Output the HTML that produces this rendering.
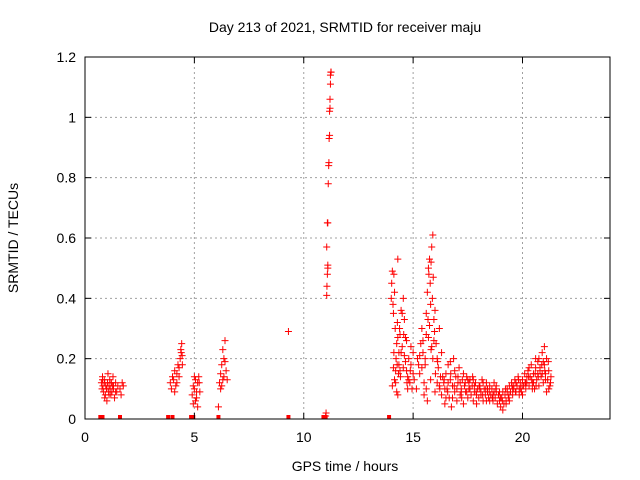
<!DOCTYPE html>
<html><head><meta charset="utf-8"><style>
html,body{margin:0;padding:0;background:#fff;}
svg{display:block;font-family:"Liberation Sans",sans-serif;}
</style></head><body>
<svg id="chart" width="640" height="480" viewBox="0 0 640 480">
<text x="345" y="32" font-size="14" text-anchor="middle">Day 213 of 2021, SRMTID for receiver maju</text>
<text x="345" y="471" font-size="14" text-anchor="middle">GPS time / hours</text>
<text x="18" y="238" font-size="14" text-anchor="middle" transform="rotate(-90 18 238)">SRMTID / TECUs</text>
<g id="grid"></g>
<g id="marks"></g>
<rect x="85" y="57" width="525" height="362" fill="none" stroke="#000" stroke-width="1"/>
<g id="ticks"></g>
</svg>
<script>
const xTicks=[0,5,10,15,20];
const yTicks=[0,0.2,0.4,0.6,0.8,1,1.2];
const yTickLabels=["0","0.2","0.4","0.6","0.8","1","1.2"];
const zeroTimes=[0.7,0.75,0.8,1.6,3.8,4.0,4.85,4.95,6.1,9.3,10.9,11.0,13.9];
const t1=[0.75,0.78,0.8,0.82,0.85,0.88,0.9,0.93,0.95,0.98,1.0,1.03,1.05,1.08,1.1,1.13,1.15,1.18,1.2,1.23,1.25,1.28,1.3,1.35,1.4,1.45,1.5,1.6,1.65,1.7,1.75,0.8,0.9,1.0,1.1,1.2,1.3,1.4];
const v1=[0.12,0.1,0.14,0.11,0.09,0.13,0.12,0.08,0.11,0.1,0.06,0.12,0.15,0.09,0.11,0.13,0.1,0.08,0.12,0.09,0.11,0.14,0.1,0.07,0.12,0.09,0.11,0.1,0.08,0.12,0.11,0.13,0.07,0.1,0.08,0.12,0.11,0.09];
const t2=[3.9,3.95,4.0,4.05,4.1,4.15,4.2,4.25,4.3,4.35,4.4,4.42,4.45,4.1,4.2,4.3,4.38,4.44,4.9,4.95,5.0,5.05,5.1,5.15,5.2,5.25,4.95,5.05,5.15,5.22,5.0,5.1,6.1,6.15,6.2,6.25,6.3,6.35,6.4,6.45,6.2,6.3,6.4,6.5,6.25,6.35,9.3];
const v2=[0.12,0.1,0.14,0.13,0.16,0.11,0.15,0.18,0.14,0.2,0.22,0.25,0.18,0.09,0.12,0.17,0.23,0.21,0.08,0.05,0.1,0.13,0.07,0.12,0.14,0.09,0.11,0.06,0.04,0.12,0.14,0.09,0.04,0.12,0.15,0.18,0.13,0.2,0.26,0.16,0.1,0.23,0.19,0.13,0.11,0.14,0.29];
const t3=[11.0,11.02,11.05,11.06,11.08,11.1,11.1,11.05,11.08,11.1,11.12,11.14,11.15,11.16,11.18,11.18,11.2,11.2,11.22,11.22,11.24,11.25];
const v3=[0.01,0.02,0.41,0.44,0.48,0.5,0.51,0.57,0.65,0.65,0.78,0.84,0.85,0.93,0.94,1.02,1.03,1.06,1.11,1.14,1.15,1.15];
const t4=[14.0,14.02,14.05,14.08,14.1,14.12,14.15,14.18,14.2,14.22,14.25,14.28,14.3,14.33,14.35,14.38,14.4,14.45,14.5,14.55,14.6,14.65,14.7,14.75,14.8,14.85,14.9,14.95,15.0,14.05,14.15,14.25,14.35,14.45,14.55,14.65,14.75,14.3,14.5,14.2,14.4,14.6,14.8,15.0,14.1,14.3,14.7,14.9];
const v4=[0.4,0.45,0.49,0.38,0.35,0.48,0.42,0.3,0.16,0.2,0.25,0.32,0.53,0.15,0.22,0.3,0.28,0.36,0.24,0.4,0.33,0.19,0.26,0.14,0.2,0.12,0.18,0.1,0.15,0.11,0.13,0.09,0.18,0.22,0.17,0.27,0.1,0.08,0.35,0.12,0.16,0.21,0.13,0.22,0.17,0.27,0.16,0.24];
const t5=[15.2,15.3,15.35,15.4,15.45,15.5,15.55,15.6,15.65,15.7,15.72,15.75,15.78,15.8,15.82,15.85,15.88,15.9,15.92,15.95,15.98,16.0,16.05,16.1,16.15,16.2,16.25,16.3,15.5,15.6,15.7,15.8,15.9,16.0,16.1,15.65,15.85,15.3,15.4,15.6,15.75,15.95,16.2];
const v5=[0.2,0.15,0.25,0.3,0.22,0.12,0.18,0.35,0.42,0.5,0.48,0.53,0.45,0.38,0.52,0.57,0.4,0.61,0.47,0.33,0.29,0.36,0.25,0.2,0.17,0.3,0.14,0.22,0.08,0.1,0.27,0.13,0.2,0.09,0.12,0.06,0.24,0.21,0.17,0.28,0.31,0.26,0.11];
const t6=[16.3,16.4,16.45,16.5,16.55,16.6,16.65,16.7,16.75,16.8,16.85,16.9,16.95,17.0,17.05,17.1,17.15,17.2,17.25,17.3,17.35,17.4,17.45,17.5,17.55,17.6,17.65,17.7,17.75,17.8,17.85,17.9,17.95,18.0,18.05,18.1,18.15,18.2,18.25,18.3,18.35,18.4,18.45,18.5,18.55,18.6,18.65,18.7,18.75,18.8,18.85,18.9,18.95,19.0,19.05,19.1,19.15,19.2,19.25,19.3,19.35,19.4,19.45,19.5,19.55,19.6,19.65,19.7,19.75,19.8,19.85,19.9,19.95,20.0,20.05,20.1,20.15,20.2,20.25,20.3,20.35,20.4,20.45,20.5,20.55,20.6,20.65,20.7,20.75,20.8,20.85,20.9,20.95,21.0,21.05,21.1,21.15,21.2,21.25,21.3];
const v6=[0.08,0.12,0.05,0.15,0.1,0.18,0.07,0.13,0.04,0.11,0.2,0.09,0.14,0.06,0.12,0.17,0.08,0.1,0.13,0.05,0.11,0.09,0.14,0.07,0.12,0.1,0.08,0.11,0.06,0.09,0.12,0.08,0.1,0.07,0.11,0.09,0.13,0.06,0.1,0.08,0.12,0.09,0.07,0.11,0.08,0.1,0.06,0.09,0.07,0.11,0.05,0.08,0.06,0.04,0.07,0.09,0.05,0.08,0.06,0.1,0.07,0.11,0.09,0.12,0.08,0.1,0.13,0.09,0.11,0.14,0.1,0.12,0.09,0.13,0.11,0.15,0.1,0.12,0.16,0.11,0.14,0.18,0.12,0.15,0.1,0.17,0.13,0.19,0.11,0.16,0.14,0.22,0.12,0.18,0.15,0.2,0.13,0.16,0.11,0.14];
const t7=[16.35,16.5,16.7,17.0,17.3,17.6,17.9,18.2,18.5,18.8,19.1,19.4,19.7,20.0,20.3,20.6,20.9,21.0,21.2,20.75,21.1,16.6,16.9,17.2,17.5,17.8,18.1,18.4,18.7,19.0,19.3,19.6,19.9,20.2,20.5,20.8,21.05,16.45,16.8,17.15,17.45,17.75,18.05,18.35,18.65,18.95,19.25,19.55,19.85,20.15,20.45,20.7,20.95];
const v7=[0.14,0.07,0.19,0.1,0.15,0.13,0.05,0.12,0.06,0.09,0.03,0.06,0.12,0.08,0.17,0.2,0.15,0.24,0.1,0.2,0.09,0.12,0.16,0.09,0.13,0.11,0.08,0.1,0.12,0.07,0.09,0.11,0.1,0.14,0.12,0.17,0.13,0.1,0.07,0.12,0.09,0.13,0.1,0.06,0.08,0.09,0.05,0.1,0.08,0.12,0.1,0.15,0.19];
const t8=[14.12,14.27,14.42,14.57,14.72,14.87,15.05,15.15,15.25,15.45,15.55,15.68,15.82,16.02,16.12,16.22,16.42,16.58,16.72,16.88,17.05,17.22,17.38,17.55,17.72,17.88,18.02,18.18,18.32,18.48,18.62,18.78,18.92,19.08,19.22,19.38,19.52,19.68,19.82,19.98,20.12,20.28,20.42,20.58,20.72,20.88,21.02,21.18,21.28,20.62];
const v8=[0.22,0.18,0.14,0.28,0.12,0.16,0.13,0.1,0.18,0.26,0.2,0.33,0.23,0.15,0.19,0.1,0.13,0.09,0.15,0.11,0.14,0.07,0.12,0.1,0.14,0.09,0.11,0.08,0.1,0.09,0.07,0.1,0.08,0.06,0.1,0.08,0.11,0.09,0.13,0.11,0.12,0.14,0.13,0.15,0.14,0.18,0.16,0.19,0.12,0.11];
const times=[].concat(t1,t2,t3,t4,t5,t6,t7,t8);
const values=[].concat(v1,v2,v3,v4,v5,v6,v7,v8);

const NS="http://www.w3.org/2000/svg";
const X0=85,X1=610,Y0=419,Y1=57,XMAX=24,YMAX=1.2;
function xs(t){return X0+(X1-X0)*t/XMAX;}
function ys(v){return Y0-(Y0-Y1)*v/YMAX;}
function mk(tag,attrs,parent){const e=document.createElementNS(NS,tag);for(const k in attrs)e.setAttribute(k,attrs[k]);parent.appendChild(e);return e;}
const grid=document.getElementById('grid'),ticks=document.getElementById('ticks'),marks=document.getElementById('marks');
xTicks.forEach(t=>{
  const x=xs(t);
  if(t>0){const g=mk('line',{x1:x,x2:x,y1:Y0,y2:Y1,stroke:'#a0a0a0','stroke-dasharray':'2,3'},grid);
  
  }
  const a=mk('line',{x1:x,x2:x,y1:Y0,y2:Y0-6,stroke:'#000'},ticks);
  
  
  const b=mk('line',{x1:x,x2:x,y1:Y1,y2:Y1+6,stroke:'#000'},ticks);
  
  
  const l=mk('text',{x:x,y:Y0+23,'font-size':14,'text-anchor':'middle'},ticks);
  l.textContent=String(t);
  
  
});
yTicks.forEach((v,i)=>{
  const y=ys(v);
  if(v>0&&v<YMAX){const g=mk('line',{x1:X0,x2:X1,y1:y,y2:y,stroke:'#a0a0a0','stroke-dasharray':'2,3'},grid);
  
  }
  const a=mk('line',{x1:X0,x2:X0+6,y1:y,y2:y,stroke:'#000'},ticks);
  
  
  const b=mk('line',{x1:X1,x2:X1-6,y1:y,y2:y,stroke:'#000'},ticks);
  
  
  const l=mk('text',{x:X0-9,y:y+5,'font-size':14,'text-anchor':'end'},ticks);
  l.textContent=yTickLabels[i];
  
  
});
zeroTimes.forEach(t=>{
  const r=mk('rect',{x:xs(t)-2,y:Y0-4,width:4,height:4,fill:'#f00'},marks);
  
  
});
times.forEach((t,i)=>{
  const x=xs(t),y=ys(values[i]);
  const p=mk('path',{d:`M${x-3.5},${y}H${x+3.5}M${x},${y-3.5}V${y+3.5}`,stroke:'#f00','stroke-width':1,fill:'none'},marks);
  
  
});
</script>
</body></html>
